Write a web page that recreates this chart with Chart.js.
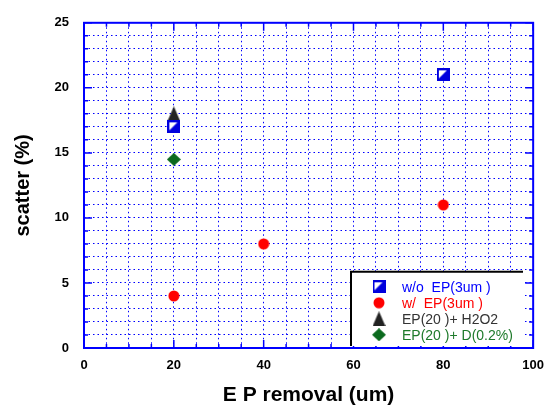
<!DOCTYPE html>
<html>
<head>
<meta charset="utf-8">
<script src="https://cdn.jsdelivr.net/npm/chart.js@4"></script>
<style>
  body { margin: 0; background: #fff; }
</style>
</head>
<body>
<canvas id="scatterChart" width="554" height="408"></canvas>
<script>
// data
const seriesLabels = ["w/o  EP(3um )", "w/  EP(3um )", "EP(20 )+ H2O2", "EP(20 )+ D(0.2%)"];
const woX = [20, 80];
const woY = [17, 21];
const wX = [20, 40, 80];
const wY = [4, 8, 11];
const h2o2X = [20];
const h2o2Y = [18];
const dX = [20];
const dY = [14.5];
const xTickLabels = [0, 20, 40, 60, 80, 100];
const yTickLabels = [0, 5, 10, 15, 20, 25];

const BLUE = "#0000ff";

function toPoints(xs, ys) {
    return xs.map((x, i) => ({ x: x, y: ys[i] }));
}

// marker images
function makeMarker(w, h, draw) {
    const c = document.createElement("canvas");
    c.width = w;
    c.height = h;
    draw(c.getContext("2d"), w, h);
    return c;
}
const squareMarker = makeMarker(13, 13, (g, w, h) => {
    g.fillStyle = "#0000dd";
    g.fillRect(0, 0, w, h);
    g.fillStyle = "#fff";
    g.beginPath();
    g.moveTo(2, 2); g.lineTo(10, 2); g.lineTo(2, 10); g.closePath();
    g.fill();
});
const redMarker = makeMarker(12, 12, (g) => {
    g.fillStyle = "#ff0000";
    g.beginPath(); g.arc(6, 6, 5.5, 0, Math.PI * 2); g.fill();
});
const triMarker = makeMarker(13, 15, (g, w, h) => {
    g.fillStyle = "#222";
    g.beginPath();
    g.moveTo(w / 2, 0); g.lineTo(w, h); g.lineTo(0, h); g.closePath();
    g.fill();
});
const greenMarker = makeMarker(14, 13, (g, w, h) => {
    g.fillStyle = "#0b6a1e";
    g.beginPath();
    g.moveTo(w / 2, 0); g.lineTo(w, h / 2); g.lineTo(w / 2, h); g.lineTo(0, h / 2); g.closePath();
    g.fill();
});
const markers = [squareMarker, redMarker, triMarker, greenMarker];
const textColors = ["#0000ff", "#ff0000", "#333333", "#1e7a2a"];

// frame with inner ticks + legend box
const framePlugin = {
    id: "frame",
    afterDatasetsDraw(chart) {
        const ctx = chart.ctx;
        const a = chart.chartArea;
        const xs = chart.scales.x, ys = chart.scales.y;
        ctx.save();
        ctx.strokeStyle = BLUE;
        ctx.lineWidth = 2;
        ctx.strokeRect(a.left, a.top, a.right - a.left, a.bottom - a.top);
        ctx.lineWidth = 1.5;
        ctx.beginPath();
        ys.ticks.forEach(t => {
            const y = ys.getPixelForValue(t.value);
            const len = yTickLabels.includes(t.value) ? 8 : 4;
            ctx.moveTo(a.left, y); ctx.lineTo(a.left + len, y);
            ctx.moveTo(a.right, y); ctx.lineTo(a.right - len, y);
        });
        xs.ticks.forEach(t => {
            const x = xs.getPixelForValue(t.value);
            const len = xTickLabels.includes(t.value) ? 8 : 4;
            ctx.moveTo(x, a.bottom); ctx.lineTo(x, a.bottom - len);
            ctx.moveTo(x, a.top); ctx.lineTo(x, a.top + len);
        });
        ctx.stroke();

        // legend
        const bx = a.left + 267, by = a.top + 249;
        const bw = 172, bh = a.bottom - 2 - by;
        ctx.fillStyle = "#fff";
        ctx.fillRect(bx, by, bw, bh);
        ctx.strokeStyle = "#000";
        ctx.lineWidth = 2;
        ctx.beginPath();
        ctx.moveTo(bx, by + bh); ctx.lineTo(bx, by); ctx.lineTo(bx + bw, by);
        ctx.stroke();
        ctx.font = "14px 'Liberation Sans', Arial, sans-serif";
        ctx.textBaseline = "middle";
        seriesLabels.forEach((label, i) => {
            const y = by + 15 + i * 16;
            const m = markers[i];
            ctx.drawImage(m, bx + 28 - m.width / 2, y - m.height / 2);
            ctx.fillStyle = textColors[i];
            ctx.fillText(label, bx + 51, y + 1);
        });
        ctx.restore();
    }
};

document.addEventListener("DOMContentLoaded", function() {
    const ctx = document.getElementById("scatterChart").getContext("2d");
    const datasets = [
        { label: seriesLabels[0], data: toPoints(woX, woY), pointStyle: squareMarker },
        { label: seriesLabels[1], data: toPoints(wX, wY), pointStyle: redMarker },
        { label: seriesLabels[2], data: toPoints(h2o2X, h2o2Y), pointStyle: triMarker },
        { label: seriesLabels[3], data: toPoints(dX, dY), pointStyle: greenMarker }
    ];
    new Chart(ctx, {
        type: "scatter",
        data: { datasets: datasets },
        options: {
            responsive: false,
            animation: false,
            layout: { padding: { left: 0, top: 12, right: 20, bottom: 0 } },
            plugins: { legend: { display: false }, tooltip: { enabled: false } },
            scales: {
                x: {
                    min: 0, max: 100,
                    afterFit: s => { s.height = 60; },
                    ticks: {
                        stepSize: 5, autoSkip: false, maxRotation: 0,
                        padding: 10, color: "#000",
                        font: { family: "'Liberation Sans Narrow', 'Liberation Sans', Arial", size: 13, weight: "bold" },
                        callback: v => xTickLabels.includes(v) ? v : ""
                    },
                    grid: { color: BLUE, lineWidth: 1, drawTicks: false },
                    border: { display: false, dash: [1.5, 3] },
                    title: {
                        display: true, text: "E P removal (um)", color: "#000",
                        font: { family: "'Liberation Sans', Arial", size: 21, weight: "bold" },
                        padding: { top: 0, bottom: 0 }
                    }
                },
                y: {
                    min: 0, max: 25,
                    afterFit: s => { s.width = 84; },
                    ticks: {
                        stepSize: 1, autoSkip: false, padding: 15, color: "#000",
                        font: { family: "'Liberation Sans Narrow', 'Liberation Sans', Arial", size: 13, weight: "bold" },
                        callback: v => yTickLabels.includes(v) ? v : ""
                    },
                    grid: { color: BLUE, lineWidth: 1, drawTicks: false },
                    border: { display: false, dash: [1.5, 3] },
                    title: {
                        display: true, text: "scatter (%)", color: "#000",
                        font: { family: "'Liberation Sans', Arial", size: 20, weight: "bold" },
                        padding: { top: 11, bottom: 0 }
                    }
                }
            }
        },
        plugins: [framePlugin]
    });
});
</script>
</body>
</html>
